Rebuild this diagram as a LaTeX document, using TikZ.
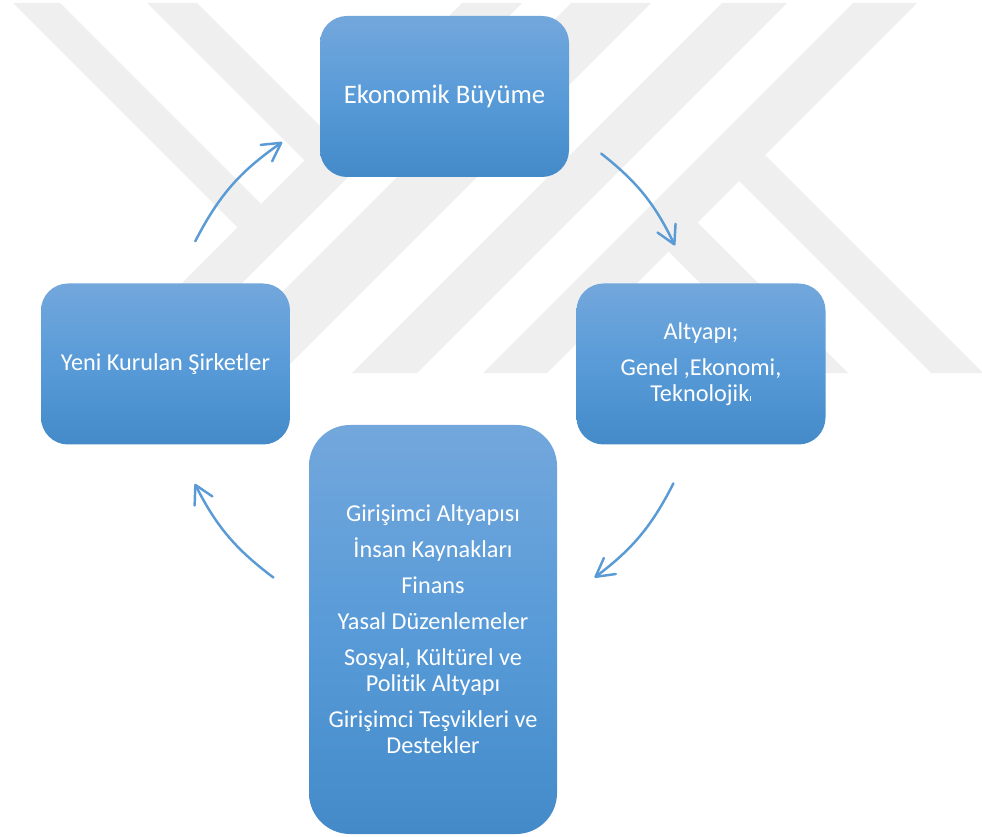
\documentclass[tikz,border=0pt]{standalone}
\usepackage{fontspec}
\setmainfont{Carlito}[Ligatures=NoCommon]
\usepackage{tikz}
\usetikzlibrary{arrows.meta}
\definecolor{boxtop}{RGB}{115,167,220}
\definecolor{boxmid}{RGB}{88,155,216}
\definecolor{boxbot}{RGB}{68,138,201}
\definecolor{arrowblue}{RGB}{91,155,213}
\definecolor{wmgray}{RGB}{239,239,239}
\tikzset{
  stage/.style={rounded corners=0.54cm, top color=boxtop, bottom color=boxbot, middle color=boxmid,
    text=white, align=center, inner sep=0pt, minimum width=4.98cm, minimum height=3.22cm,
    font=\fontsize{13.8}{14.8}\selectfont},
  tallstage/.style={stage, rounded corners=0.82cm, minimum width=4.96cm, minimum height=8.18cm},
  cyclearrow/.style={arrowblue, line width=1.4pt, line cap=round,
    -{Straight Barb[length=3.6mm,width=4mm,round]}},
}

\begin{document}
\begin{tikzpicture}
  \useasboundingbox (0,0) rectangle (19.64,16.72);
  % watermark in the background
  \begin{scope}[shift={(0,16.72)}, x=0.02cm, y=-0.02cm]
    \fill[wmgray] (13,3) -- (60,3) -- (261,204) -- (237.5,227.5) -- cycle;
    \fill[wmgray] (147,3) -- (197,3) -- (329.5,135.5) -- (304.5,160.5) -- cycle;
    \fill[wmgray] (462,3) -- (522,3) -- (152,373) -- (92,373) -- cycle;
    \fill[wmgray] (571,3) -- (651,3) -- (281,373) -- (201,373) -- cycle;
    \fill[wmgray] (722,3) -- (787,3) -- (417,373) -- (352,373) -- cycle;
    \fill[wmgray] (853,3) -- (917,3) -- (547,373) -- (483,373) -- cycle;
    \fill[wmgray] (765,155) -- (983,373) -- (931,373) -- (739,181) -- cycle;
    \fill[wmgray] (697.5,222.5) -- (848,373) -- (790,373) -- (668.5,251.5) -- cycle;
  \end{scope}

  \node[stage, font=\fontsize{15.2}{15.2}\selectfont] (buyume) at (8.89,14.79) {Ekonomik Büyüme};
  \node[stage] (altyapi) at (14.02,9.44) {Altyapı;\\[5.7pt] Genel ,Ekonomi,\\ Teknolojik{\fontsize{6}{6}\selectfont ı}};
  \node[stage] (sirket) at (3.31,9.44) {Yeni Kurulan Şirketler};
  \node[tallstage] (girisim) at (8.66,4.13) {Girişimci Altyapısı\\[5.7pt] İnsan Kaynakları\\[5.7pt] Finans\\[5.7pt]
    Yasal Düzenlemeler\\[5.7pt] Sosyal, Kültürel ve\\ Politik Altyapı\\[5.7pt] Girişimci Teşvikleri ve\\ Destekler};

  % arrows round the cycle
  \coordinate (hub) at (8.68,9.46);
  \path (hub) ++(153:5.36) coordinate (s1) (hub) ++(124.5:5.36) coordinate (e1);
  \path (hub) ++(51.4:5.36) coordinate (s2) (hub) ++(26:5.36) coordinate (e2);
  \path (hub) ++(-26.7:5.36) coordinate (s3) (hub) ++(-53.2:5.36) coordinate (e3);
  \path (hub) ++(233.2:5.36) coordinate (s4) (hub) ++(206.8:5.36) coordinate (e4);
  \draw[cyclearrow] (s1) to[bend left=14] (e1);
  \draw[cyclearrow] (s2) to[bend left=13] (e2);
  \draw[cyclearrow] (s3) to[bend left=13] (e3);
  \draw[cyclearrow] (s4) to[bend left=13] (e4);
\end{tikzpicture}
\end{document}
